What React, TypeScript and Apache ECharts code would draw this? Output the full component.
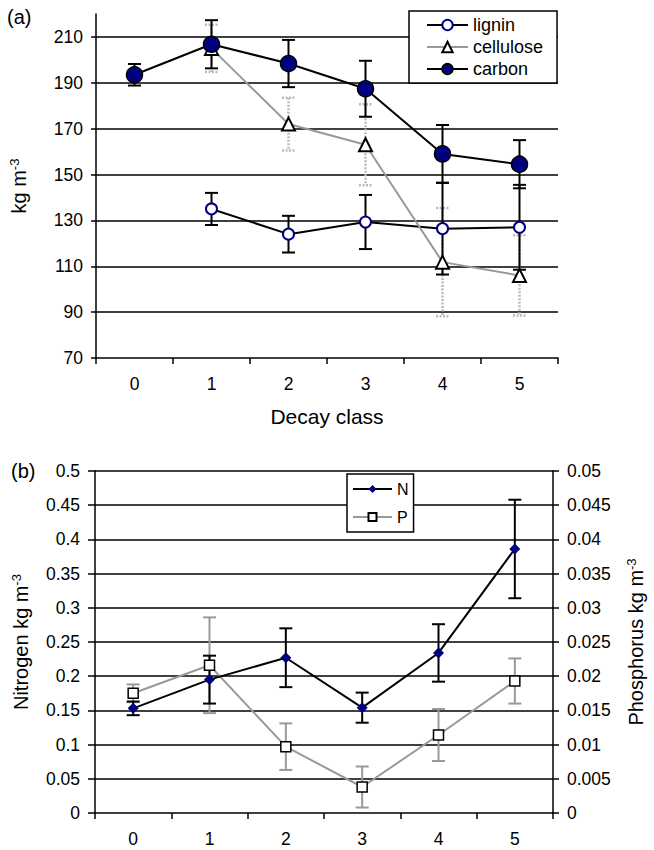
import React, { useEffect, useRef } from "react";
import * as echarts from "echarts";

const categories = ["0", "1", "2", "3", "4", "5"];

const lignin = [null, 135, 124, 129.3, 126.4, 127];
const ligninErr = [null, 7, 8, 11.8, 20, 18.5];
const cellulose = [null, 205, 172, 163, 111.8, 106];
const celluloseErr = [null, 10.3, 11.5, 17.7, 23.6, 17.5];
const carbon = [193.5, 206.8, 198.4, 187.4, 159, 154.5];
const carbonErr = [4.7, 10.5, 10.3, 12.2, 12.6, 10.5];

const nitrogen = [0.153, 0.195, 0.227, 0.154, 0.234, 0.386];
const nitrogenErr = [0.01, 0.035, 0.043, 0.022, 0.042, 0.072];
const phosphorus = [0.0175, 0.0216, 0.0097, 0.0038, 0.0114, 0.0193];
const phosphorusErr = [0.0013, 0.007, 0.0034, 0.003, 0.0038, 0.0033];

const FONT = "Liberation Sans";
const NAVY = "#000080";

function errData(vals: (number | null)[], errs: (number | null)[]) {
  const out: number[][] = [];
  vals.forEach((v, i) => {
    const e = errs[i];
    if (v != null && e != null) out.push([i, v - e, v + e]);
  });
  return out;
}

function errSeries(
  data: number[][],
  color: string,
  width: number,
  dash: number[] | null,
  xAxisIndex: number,
  yAxisIndex: number
) {
  return {
    type: "custom",
    xAxisIndex,
    yAxisIndex,
    z: 1,
    silent: true,
    encode: { x: 0, y: [1, 2] },
    data,
    renderItem: (params: any, api: any) => {
      const x = api.value(0);
      const lo = api.value(1);
      const hi = api.value(2);
      const p1 = api.coord([x, hi]);
      const p2 = api.coord([x, lo]);
      const cap = 6.5;
      const style: any = { stroke: color, lineWidth: width, fill: null };
      if (dash) style.lineDash = dash;
      return {
        type: "group",
        children: [
          { type: "line", shape: { x1: p1[0], y1: p1[1], x2: p2[0], y2: p2[1] }, style },
          { type: "line", shape: { x1: p1[0] - cap, y1: p1[1], x2: p1[0] + cap, y2: p1[1] }, style },
          { type: "line", shape: { x1: p2[0] - cap, y1: p2[1], x2: p2[0] + cap, y2: p2[1] }, style },
        ],
      };
    },
  };
}

const TICK_FS = 17.5;
const NAME_FS = 20;
const labelStyle = { fontFamily: FONT, fontSize: TICK_FS, color: "#000" };
const axisLineStyle = { lineStyle: { color: "#000", width: 1.5 } };
const supRich = {
  sup: { fontFamily: FONT, fontSize: 13, color: "#000", verticalAlign: "top", padding: [0, 0, 9, 0] },
};

export default function App() {
  const ref = useRef<HTMLDivElement>(null);
  useEffect(() => {
    document.body.style.margin = "0";
    const chart = echarts.init(ref.current!, null, { renderer: "svg" });
    const option: any = {
      animation: false,
      backgroundColor: "#fff",
      textStyle: { fontFamily: FONT },
      graphic: [
        { type: "text", left: 7, top: 7, style: { text: "(a)", font: `20px ${FONT}`, fill: "#000" } },
        { type: "text", left: 11, top: 461, style: { text: "(b)", font: `20px ${FONT}`, fill: "#000" } },
      ],
      grid: [
        { left: 95, right: 96, top: 14, height: 344 },
        { left: 95, right: 97, top: 471, height: 342 },
      ],
      legend: [
        {
          data: ["lignin", "cellulose", "carbon"],
          orient: "vertical",
          left: 409,
          top: 11,
          padding: [5, 14, 5, 17],
          itemGap: 4,
          itemWidth: 41,
          itemHeight: 13,
          backgroundColor: "#fff",
          borderColor: "#000",
          borderWidth: 1.5,
          textStyle: { fontFamily: FONT, fontSize: 18, color: "#000" },
        },
        {
          data: ["N", "P"],
          orient: "vertical",
          left: 347,
          top: 474,
          padding: [7, 5, 7, 5],
          itemGap: 12,
          itemWidth: 39,
          itemHeight: 10,
          backgroundColor: "#fff",
          borderColor: "#000",
          borderWidth: 1.5,
          textStyle: { fontFamily: FONT, fontSize: 16, color: "#000" },
        },
      ],
      xAxis: [
        {
          type: "category",
          gridIndex: 0,
          data: categories,
          boundaryGap: true,
          axisLine: axisLineStyle,
          axisTick: { show: true, interval: 0, length: 6, lineStyle: { color: "#000", width: 1.5 } },
          axisLabel: { ...labelStyle, margin: 17, interval: 0 },
          name: "Decay class",
          nameLocation: "middle",
          nameGap: 48,
          nameTextStyle: { fontFamily: FONT, fontSize: 21, color: "#000" },
        },
        {
          type: "category",
          gridIndex: 1,
          data: categories,
          boundaryGap: true,
          axisLine: axisLineStyle,
          axisTick: { show: true, interval: 0, length: 6, lineStyle: { color: "#000", width: 1.5 } },
          axisLabel: { ...labelStyle, margin: 17, interval: 0 },
        },
      ],
      yAxis: [
        {
          type: "value",
          gridIndex: 0,
          min: 70,
          max: 220,
          interval: 20,
          axisLine: { show: true, ...axisLineStyle },
          axisTick: { show: true, length: 5, lineStyle: { color: "#000", width: 1.5 } },
          axisLabel: { ...labelStyle, margin: 13, showMaxLabel: false },
          splitLine: { show: true, showMaxLine: false, showMinLine: false, lineStyle: { color: "#000", width: 1.5 } },
          name: "kg m{sup|-3}",
          nameLocation: "middle",
          nameGap: 66,
          nameTextStyle: { fontFamily: FONT, fontSize: NAME_FS, color: "#000", rich: supRich },
        },
        {
          type: "value",
          gridIndex: 1,
          min: 0,
          max: 0.5,
          interval: 0.05,
          axisLine: { show: true, ...axisLineStyle },
          axisTick: { show: true, length: 7, lineStyle: { color: "#000", width: 1.5 } },
          axisLabel: { ...labelStyle, margin: 15 },
          splitLine: { show: true, showMinLine: false, lineStyle: { color: "#000", width: 1.5 } },
          name: "Nitrogen kg m{sup|-3}",
          nameLocation: "middle",
          nameGap: 63,
          nameTextStyle: { fontFamily: FONT, fontSize: NAME_FS, color: "#000", rich: supRich },
        },
        {
          type: "value",
          gridIndex: 1,
          position: "right",
          min: 0,
          max: 0.05,
          interval: 0.005,
          axisLine: { show: true, ...axisLineStyle },
          axisTick: { show: true, length: 6, lineStyle: { color: "#000", width: 1.5 } },
          axisLabel: { ...labelStyle, margin: 14 },
          splitLine: { show: false },
          name: "Phosphorus kg m{sup|-3}",
          nameLocation: "middle",
          nameGap: 72,
          nameRotate: 90,
          nameTextStyle: { fontFamily: FONT, fontSize: NAME_FS, color: "#000", rich: supRich },
        },
      ],
      series: [
        errSeries(errData(cellulose, celluloseErr), "#bbbbbb", 2.5, [2, 1.5], 0, 0),
        errSeries(errData(lignin, ligninErr), "#000", 2, null, 0, 0),
        errSeries(errData(carbon, carbonErr), "#000", 2, null, 0, 0),
        errSeries(errData(phosphorus, phosphorusErr), "#999999", 2, null, 1, 2),
        errSeries(errData(nitrogen, nitrogenErr), "#000", 2, null, 1, 1),
        {
          name: "lignin",
          type: "line",
          xAxisIndex: 0,
          yAxisIndex: 0,
          data: lignin,
          symbol: "circle",
          symbolSize: 11,
          z: 3,
          lineStyle: { color: "#000", width: 2 },
          itemStyle: { color: "#fff", borderColor: NAVY, borderWidth: 2 },
        },
        {
          name: "cellulose",
          type: "line",
          xAxisIndex: 0,
          yAxisIndex: 0,
          data: cellulose,
          symbol: "triangle",
          symbolSize: 13,
          z: 3,
          lineStyle: { color: "#999999", width: 2 },
          itemStyle: { color: "#fff", borderColor: "#000", borderWidth: 2 },
        },
        {
          name: "carbon",
          type: "line",
          xAxisIndex: 0,
          yAxisIndex: 0,
          data: carbon,
          symbol: "circle",
          symbolSize: 16,
          z: 4,
          lineStyle: { color: "#000", width: 2 },
          itemStyle: { color: NAVY, borderColor: "#000", borderWidth: 1.5 },
        },
        {
          name: "N",
          type: "line",
          xAxisIndex: 1,
          yAxisIndex: 1,
          data: nitrogen,
          symbol: "diamond",
          symbolSize: 11,
          z: 4,
          lineStyle: { color: "#000", width: 2 },
          itemStyle: { color: NAVY },
        },
        {
          name: "P",
          type: "line",
          xAxisIndex: 1,
          yAxisIndex: 2,
          data: phosphorus,
          symbol: "rect",
          symbolSize: 10,
          z: 3,
          lineStyle: { color: "#999999", width: 2 },
          itemStyle: { color: "#fff", borderColor: "#000", borderWidth: 1.5 },
        },
      ],
    };
    chart.setOption(option);
    return () => chart.dispose();
  }, []);
  return <div ref={ref} style={{ width: 654, height: 850 }} />;
}
